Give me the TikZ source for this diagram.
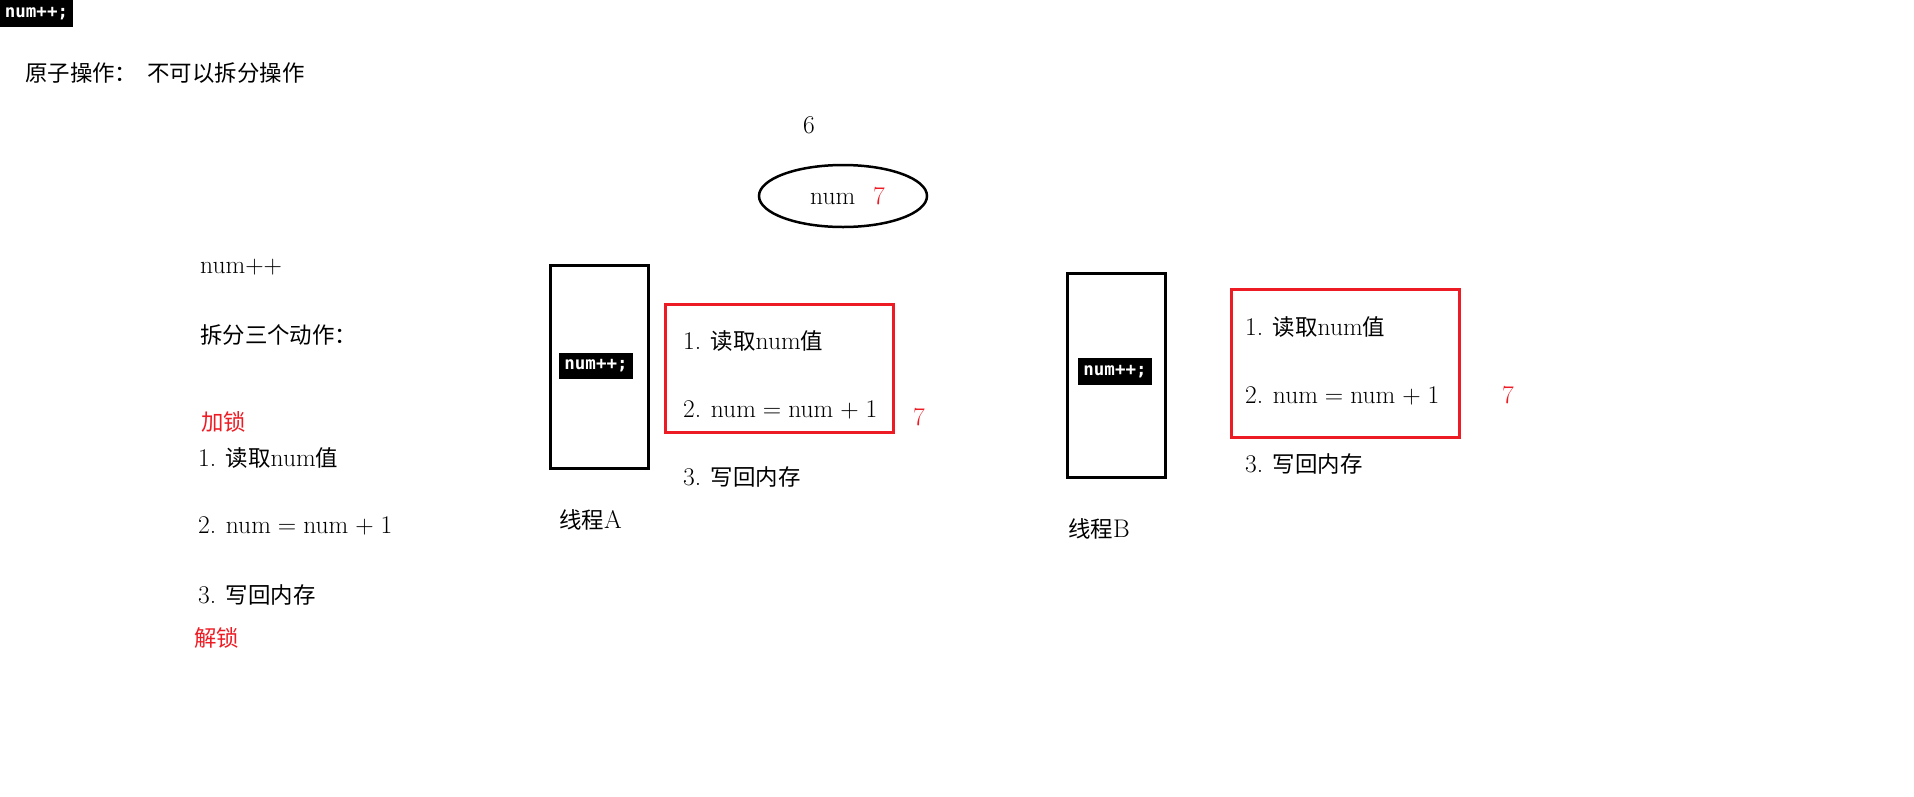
\documentclass[tikz,border=0pt]{standalone}
\usepackage{fontspec}
\usetikzlibrary{shapes.geometric}
\newfontfamily\cjk{Noto Sans CJK SC}[Scale=0.88]
\newfontfamily\monof{DejaVu Sans Mono}
\definecolor{myred}{HTML}{ED1C24}
\newcommand{\lblfont}{\fontsize{25.5}{30}\selectfont\spaceskip=7pt plus 1pt minus 1pt\relax}
\tikzset{
  lbl/.style={anchor=base west, inner sep=0pt, font=\lblfont},
  redlbl/.style={lbl, text=myred},
  codebox/.style={fill=black, text=white, inner sep=0pt, font=\monof\bfseries\fontsize{17.5}{20}\selectfont},
  threadbox/.style={draw=black, line width=3pt, minimum width=98pt, minimum height=203pt, inner sep=0pt},
  redbox/.style={draw=myred, line width=3pt, minimum width=228pt, inner sep=0pt},
}
\begin{document}
\begin{tikzpicture}[x=1pt,y=-1pt]
\useasboundingbox (0,0) rectangle (1914,796);
% top-left code label and title
\node[codebox, minimum width=73pt, minimum height=27pt] (top) at (36.5,13.5) {num++;};
\node[lbl] (title) at (25,81) {\cjk 原子操作：\kern10pt 不可以拆分操作};
% shared variable
\node[lbl] (six) at (803,133) {6};
\node[draw, ellipse, line width=2.5pt, minimum width=168pt, minimum height=62pt, inner sep=0pt] (var) at (843,196) {};
\node[lbl] (varname) at (810,204) {num};
\node[redlbl] (varval) at (873,204) {7};
% left column
\node[lbl] (inc) at (200,273) {num++};
\node[lbl] (split) at (200,343) {\cjk 拆分三个动作：};
\node[redlbl] (lock) at (201,430) {\cjk 加锁};
\node[lbl] (l1) at (198,466) {1. {\cjk 读取}num{\cjk 值}};
\node[lbl] (l2) at (198,533) {2. num = num + 1};
\node[lbl] (l3) at (198,603) {3. {\cjk 写回内存}};
\node[redlbl] (unlock) at (194,646) {\cjk 解锁};
% thread A
\node[threadbox] (ta) at (599,366.5) {};
\node[codebox, minimum width=74pt, minimum height=26pt] (codea) at (596,366) {num++;};
\node[redbox, minimum height=128pt] (ra) at (779,368) {};
\node[lbl] (a1) at (683,349) {1. {\cjk 读取}num{\cjk 值}};
\node[lbl] (a2) at (683,417) {2. num = num + 1};
\node[redlbl] (a7) at (913,425) {7};
\node[lbl] (a3) at (683,485) {3. {\cjk 写回内存}};
\node[lbl] (na) at (559,528) {{\cjk 线程}A};
% thread B
\node[threadbox, minimum height=204pt] (tb) at (1116,375) {};
\node[codebox, minimum width=74pt, minimum height=27pt] (codeb) at (1115,371.5) {num++;};
\node[redbox, minimum height=148pt] (rb) at (1345,363) {};
\node[lbl] (b1) at (1245,335) {1. {\cjk 读取}num{\cjk 值}};
\node[lbl] (b2) at (1245,403) {2. num = num + 1};
\node[redlbl] (b7) at (1502,403) {7};
\node[lbl] (b3) at (1245,472) {3. {\cjk 写回内存}};
\node[lbl] (nb) at (1068,537) {{\cjk 线程}B};
\end{tikzpicture}
\end{document}
